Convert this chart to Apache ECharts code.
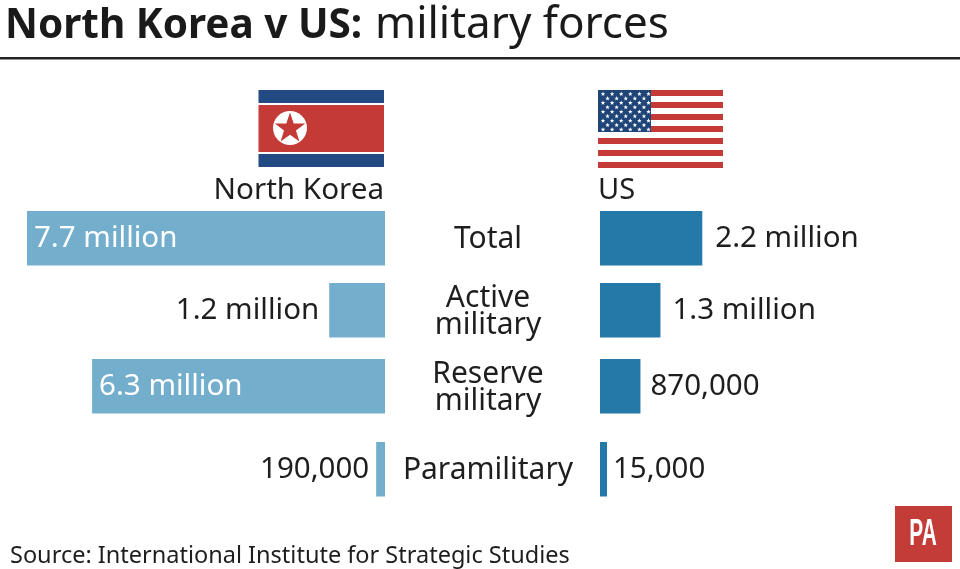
<!DOCTYPE html>
<html><head><meta charset="utf-8">
<style>html,body{margin:0;padding:0;background:#fff}#c{width:960px;height:569px}</style>
<script src="https://cdn.jsdelivr.net/npm/echarts@6/dist/echarts.min.js"></script>
</head><body><div id="c"></div>
<script>
const categories = ['Total', 'Active\nmilitary', 'Reserve\nmilitary', 'Paramilitary'];
const northKorea = [7700000, 1200000, 6300000, 190000];
const unitedStates = [2200000, 1300000, 870000, 15000];
const northKoreaLabels = ['7.7 million', '1.2 million', '6.3 million', '190,000'];
const unitedStatesLabels = ['2.2 million', '1.3 million', '870,000', '15,000'];

const FONT = '"Noto Sans", sans-serif';
const INK = '#1e1e1e', NK_BAR = '#73aecd', US_BAR = '#2479a8';
const RED = '#c43a37', BLUE = '#234a82', CANTON = '#1e4478';
const rowTops = [211, 283, 359, 442], rowH = 54.5;
const nkGapOut = [0, 10, 0, 7], usGap = [13, 12, 10, 6];
const AXIS_MAX = 7700000, BAR_SPAN = 358;

const grid = [], xAxis = [], yAxis = [], series = [];
categories.forEach((cat, i) => {
  // North Korea row
  let g = grid.length;
  grid.push({ left: 385 - BAR_SPAN, top: rowTops[i], width: BAR_SPAN, height: rowH });
  xAxis.push({ gridIndex: g, type: 'value', min: 0, max: AXIS_MAX, inverse: true, show: false });
  yAxis.push({ gridIndex: g, type: 'category', data: [cat], show: false });
  const big = northKorea[i] > 5000000;
  series.push({
    type: 'bar', xAxisIndex: g, yAxisIndex: g, barWidth: '100%', silent: true, animation: false,
    itemStyle: { color: NK_BAR },
    label: {
      show: true, formatter: northKoreaLabels[i], fontFamily: FONT, fontSize: 29.5, offset: [0, 0.5],
      color: big ? '#fff' : INK, position: big ? 'insideLeft' : 'left', distance: big ? 7 : nkGapOut[i]
    },
    data: [northKorea[i]]
  });
  // US row
  g = grid.length;
  grid.push({ left: 600, top: rowTops[i], width: BAR_SPAN, height: rowH });
  xAxis.push({ gridIndex: g, type: 'value', min: 0, max: AXIS_MAX, show: false });
  yAxis.push({ gridIndex: g, type: 'category', data: [cat], show: false });
  series.push({
    type: 'bar', xAxisIndex: g, yAxisIndex: g, barWidth: '100%', barMinHeight: 7, silent: true, animation: false,
    itemStyle: { color: US_BAR },
    label: {
      show: true, formatter: unitedStatesLabels[i], fontFamily: FONT, fontSize: 29.5, offset: [0, 0.5],
      color: INK, position: 'right', distance: usGap[i]
    },
    data: [unitedStates[i]]
  });
});

function starPts(cx, cy, R, r) {
  const p = [];
  for (let k = 0; k < 10; k++) {
    const a = -Math.PI / 2 + k * Math.PI / 5, q = k % 2 ? r : R;
    p.push([cx + q * Math.cos(a), cy + q * Math.sin(a)]);
  }
  return p;
}
const rect = (x, y, w, h, fill) => ({ type: 'rect', shape: { x, y, width: w, height: h }, style: { fill }, silent: true });
const txt = (x, y, text, size, extra) => ({
  type: 'text', x, y, silent: true,
  style: Object.assign({ text, fontFamily: FONT, fontSize: size, fill: INK, textVerticalAlign: 'middle', textAlign: 'left' }, extra || {})
});

const g = [];
// Title and rule
g.push(txt(5, 26, 'North Korea v US:', 40.5, { fontWeight: 'bold', fill: '#1a1a1a' }));
g.push(txt(375, 25, 'military forces', 44, { fill: '#1a1a1a' }));
g.push(rect(0, 57, 960, 2.5, '#222222'));
// North Korean flag
g.push(rect(258.5, 90, 125.5, 13, BLUE));
g.push(rect(258.5, 105, 125.5, 47, RED));
g.push(rect(258.5, 154, 125.5, 13, BLUE));
g.push({ type: 'circle', shape: { cx: 290, cy: 128, r: 17 }, style: { fill: '#fff' }, silent: true });
g.push({ type: 'polygon', shape: { points: starPts(290, 128.5, 16, 6.3) }, style: { fill: RED }, silent: true });
// US flag
for (let s = 0; s < 7; s++) g.push(rect(598, 90 + s * 12, 125, 6, RED));
g.push(rect(598, 90, 53, 42, CANTON));
for (let r = 0; r < 9; r++) {
  const n = r % 2 ? 5 : 6;
  for (let c = 0; c < n; c++) {
    const cx = 603 + c * 9.1 + (r % 2 ? 4.55 : 0), cy = 94 + r * 4.45;
    g.push({ type: 'polygon', shape: { points: starPts(cx, cy, 2.4, 1) }, style: { fill: '#fff' }, silent: true });
  }
}
// Column headings
g.push(txt(384, 191, 'North Korea', 29.6, { textAlign: 'right' }));
g.push(txt(598, 191, 'US', 29));
// Centre category labels
categories.forEach((cat, i) => {
  g.push(txt(488, rowTops[i] + rowH / 2 + 1.5, cat, 30, { textAlign: 'center', lineHeight: 27 }));
});
// Source
g.push(txt(10, 556, 'Source: International Institute for Strategic Studies', 23.5));
// PA logo
g.push(rect(895, 506, 57, 56, '#c43c38'));
g.push({
  type: 'text', x: 923, y: 535, scaleX: 0.58, silent: true,
  style: { text: 'PA', fontFamily: '"Liberation Sans Narrow", "Liberation Sans", sans-serif', fontSize: 36, fontWeight: 'bold', fill: '#fff', textAlign: 'center', textVerticalAlign: 'middle' }
});

const chart = echarts.init(document.getElementById('c'), null, { renderer: 'canvas' });
chart.setOption({ backgroundColor: '#fff', animation: false, grid, xAxis, yAxis, series, graphic: { elements: g } });
</script></body></html>
